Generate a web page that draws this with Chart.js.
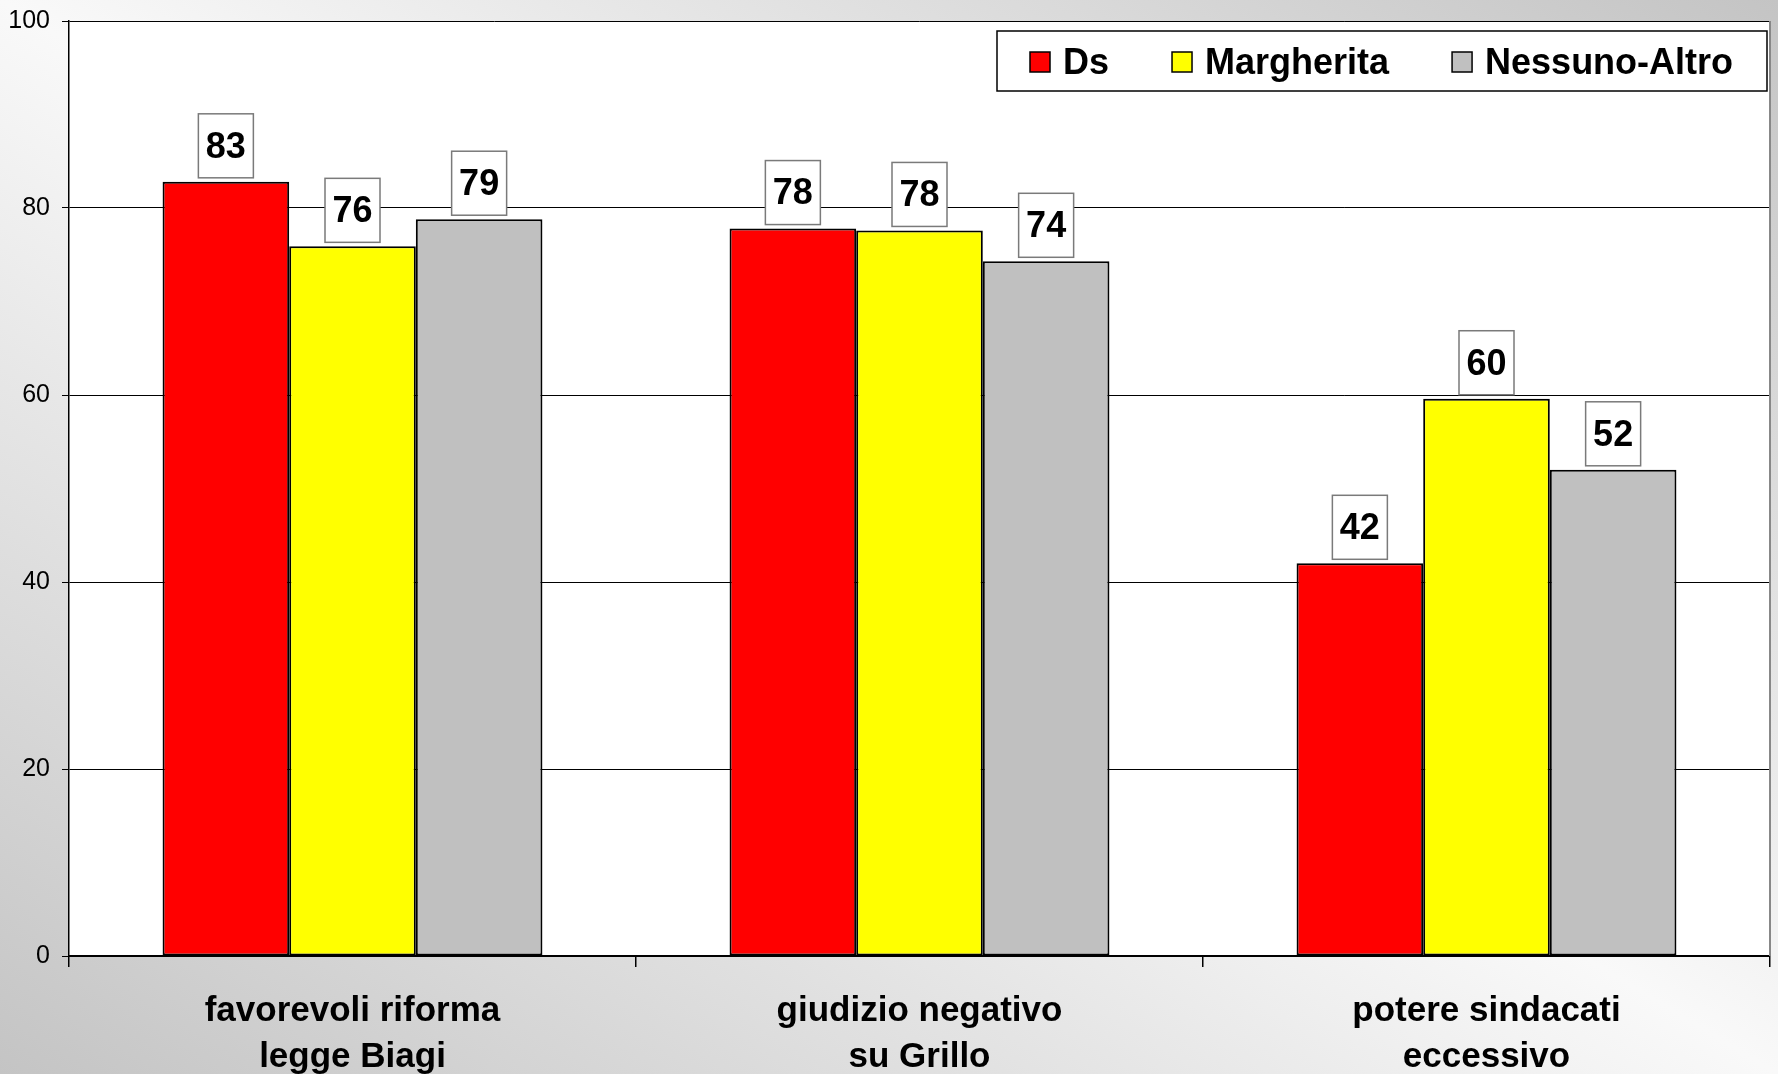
<!DOCTYPE html>
<html lang="it">
<head>
    <meta charset="UTF-8">
    <title>Ds / Margherita / Nessuno-Altro</title>
    <script src="https://cdn.jsdelivr.net/npm/chart.js"></script>
    <style>
        html, body {
            margin: 0;
            padding: 0;
            width: 1778px;
            height: 1074px;
            overflow: hidden;
        }
        body {
            background: linear-gradient(to top right, #c4c4c4 0%, #f9f9f9 50%, #c4c4c4 100%);
        }
        canvas {
            display: block;
        }
    </style>
</head>
<body>
    <canvas id="chart" width="1778" height="1074"></canvas>

    <script>
        // categories (two-line labels)
        const categories = [
            ['favorevoli riforma', 'legge Biagi'],
            ['giudizio negativo', 'su Grillo'],
            ['potere sindacati', 'eccessivo']
        ];
        const seriesNames = ['Ds', 'Margherita', 'Nessuno-Altro'];
        const dsValues = [82.8, 77.8, 42.0];
        const margheritaValues = [75.9, 77.6, 59.6];
        const nessunoValues = [78.8, 74.3, 52.0];
        const yTicks = [0, 20, 40, 60, 80, 100];

        const colors = ['#ff0000', '#ffff00', '#c0c0c0'];
        const FONT = "'Liberation Sans', Arial, sans-serif";

        // white plot area + right border
        const plotArea = {
            id: 'plotArea',
            beforeDraw(chart) {
                const a = chart.chartArea, ctx = chart.ctx;
                ctx.save();
                ctx.fillStyle = '#fff';
                ctx.fillRect(a.left, a.top, a.right - a.left, a.bottom - a.top);
                ctx.restore();
            },
            afterDraw(chart) {
                const a = chart.chartArea, ctx = chart.ctx;
                ctx.save();
                ctx.strokeStyle = '#888';
                ctx.lineWidth = 2;
                ctx.beginPath();
                ctx.moveTo(a.right, a.top);
                ctx.lineTo(a.right, a.bottom);
                ctx.stroke();
                ctx.restore();
            }
        };

        // boxed value labels above the bars
        const boxLabels = {
            id: 'boxLabels',
            afterDatasetsDraw(chart) {
                const ctx = chart.ctx;
                ctx.save();
                ctx.font = 'bold 36px ' + FONT;
                ctx.textAlign = 'center';
                ctx.textBaseline = 'middle';
                chart.data.datasets.forEach((ds, i) => {
                    chart.getDatasetMeta(i).data.forEach((bar, j) => {
                        const w = 55, h = 64;
                        const x = bar.x - w / 2, y = bar.y - 4 - h;
                        ctx.fillStyle = '#fff';
                        ctx.fillRect(x, y, w, h);
                        ctx.strokeStyle = '#7a7a7a';
                        ctx.lineWidth = 1.5;
                        ctx.strokeRect(x, y, w, h);
                        ctx.fillStyle = '#000';
                        ctx.fillText(Math.round(ds.data[j]), bar.x, y + h / 2 + 2);
                    });
                });
                ctx.restore();
            }
        };

        // framed legend in the top right corner
        const boxLegend = {
            id: 'boxLegend',
            afterDraw(chart) {
                const ctx = chart.ctx;
                ctx.save();
                ctx.fillStyle = '#fff';
                ctx.fillRect(997, 31, 770, 60);
                ctx.strokeStyle = '#000';
                ctx.lineWidth = 1.5;
                ctx.strokeRect(997, 31, 770, 60);
                ctx.font = 'bold 36px ' + FONT;
                ctx.textBaseline = 'middle';
                ctx.textAlign = 'left';
                let x = 1030;
                chart.data.datasets.forEach(ds => {
                    ctx.fillStyle = ds.backgroundColor;
                    ctx.fillRect(x, 52, 20, 20);
                    ctx.strokeStyle = '#000';
                    ctx.lineWidth = 1.5;
                    ctx.strokeRect(x, 52, 20, 20);
                    ctx.fillStyle = '#000';
                    ctx.fillText(ds.label, x + 33, 64);
                    x += 33 + ctx.measureText(ds.label).width + 63;
                });
                ctx.restore();
            }
        };

        const seriesValues = [dsValues, margheritaValues, nessunoValues];

        new Chart(document.getElementById('chart'), {
            type: 'bar',
            data: {
                labels: categories,
                datasets: seriesNames.map((name, i) => ({
                    label: name,
                    data: seriesValues[i],
                    backgroundColor: colors[i],
                    borderColor: '#000',
                    borderWidth: 2,
                    borderSkipped: false,
                    categoryPercentage: 0.67,
                    barPercentage: 1.0
                }))
            },
            options: {
                responsive: false,
                animation: false,
                devicePixelRatio: 1,
                layout: { padding: { top: 21, right: 8, left: 0, bottom: 0 } },
                plugins: {
                    legend: { display: false },
                    tooltip: { enabled: false }
                },
                scales: {
                    x: {
                        grid: {
                            drawOnChartArea: false,
                            offset: true,
                            tickLength: 11,
                            color: '#000',
                            lineWidth: 1.5
                        },
                        border: { color: '#000', width: 2 },
                        ticks: {
                            color: '#000',
                            padding: 22,
                            font: { family: FONT, size: 35, weight: 'bold', lineHeight: 1.3 }
                        },
                        afterFit(scale) {
                            scale.height = 118;
                            scale.paddingLeft = 0;
                            scale.paddingRight = 0;
                        }
                    },
                    y: {
                        min: 0,
                        max: 100,
                        afterBuildTicks(scale) {
                            scale.ticks = yTicks.map(v => ({ value: v }));
                        },
                        grid: {
                            color: '#000',
                            lineWidth: 1,
                            tickLength: 7
                        },
                        border: { color: '#000', width: 1.5 },
                        ticks: {
                            color: '#000',
                            padding: 12,
                            font: { family: FONT, size: 25 }
                        },
                        afterFit(scale) {
                            scale.width = 69;
                            scale.paddingTop = 0;
                            scale.paddingBottom = 0;
                        }
                    }
                }
            },
            plugins: [plotArea, boxLabels, boxLegend]
        });
    </script>
</body>
</html>
